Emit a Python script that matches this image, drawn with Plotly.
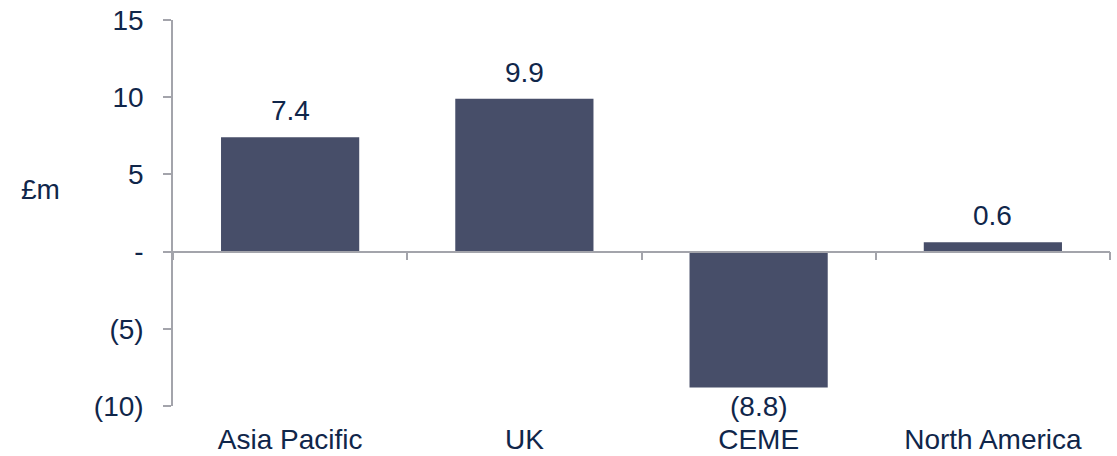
import plotly.graph_objects as go

categories = ["Asia Pacific", "UK", "CEME", "North America"]
values = [7.4, 9.9, -8.8, 0.6]
ytick_vals = [15, 10, 5, 0, -5, -10]
ytick_text = ["15", "10", "5", "-", "(5)", "(10)"]

labels = [f"({abs(v):.1f})" if v < 0 else f"{v:.1f}" for v in values]

BAR = "#474e69"
TXT = "#10264a"
AX = "#a3a4ab"
FONT = "Liberation Sans, Arial, sans-serif"
FS = 28

fig = go.Figure()
fig.add_trace(go.Bar(
    x=categories, y=values, marker_color=BAR, marker_line_width=0,
    showlegend=False, hoverinfo="skip",
))
# invisible trace to drive the zero-line axis with boundary ticks
fig.add_trace(go.Bar(x=categories, y=[0] * len(categories), xaxis="x2",
                     marker_color="rgba(0,0,0,0)", showlegend=False, hoverinfo="skip"))

annotations = []
for c, v, t in zip(categories, values, labels):
    annotations.append(dict(
        x=c, y=v, xref="x", yref="y", text=t, showarrow=False,
        yanchor="bottom" if v >= 0 else "top",
        yshift=9 if v >= 0 else -2,
        font=dict(size=FS, color=TXT, family=FONT),
    ))
annotations.append(dict(
    text="£m", xref="paper", yref="paper", x=-0.141, y=0.56,
    xanchor="center", yanchor="middle", showarrow=False,
    font=dict(size=28, color=TXT, family=FONT),
))

fig.update_layout(
    width=1117, height=456,
    margin=dict(l=173, r=7, t=20, b=50, autoexpand=False),
    paper_bgcolor="white", plot_bgcolor="white",
    bargap=0.41,
    font=dict(family=FONT, color=TXT),
    xaxis=dict(
        showline=False, ticks="", showgrid=False, zeroline=False,
        tickfont=dict(size=FS, color=TXT, family=FONT),
        ticklabelstandoff=14, automargin=False,
    ),
    xaxis2=dict(
        overlaying="x", anchor="free", position=0.4, side="bottom",
        showline=True, linecolor=AX, linewidth=1.5,
        ticks="outside", ticklen=8, tickcolor=AX, tickwidth=1.5,
        tickson="boundaries", showticklabels=False, showgrid=False, zeroline=False,
        matches="x", automargin=False,
    ),
    yaxis=dict(
        range=[-10, 15], tickvals=ytick_vals, ticktext=ytick_text,
        showline=True, linecolor=AX, linewidth=1.5,
        ticks="outside", ticklen=8, tickcolor=AX, tickwidth=1.5,
        showgrid=False, zeroline=False,
        tickfont=dict(size=FS, color=TXT, family=FONT),
        ticklabelstandoff=14, automargin=False,
    ),
    annotations=annotations,
)

fig.write_html("out.html")
